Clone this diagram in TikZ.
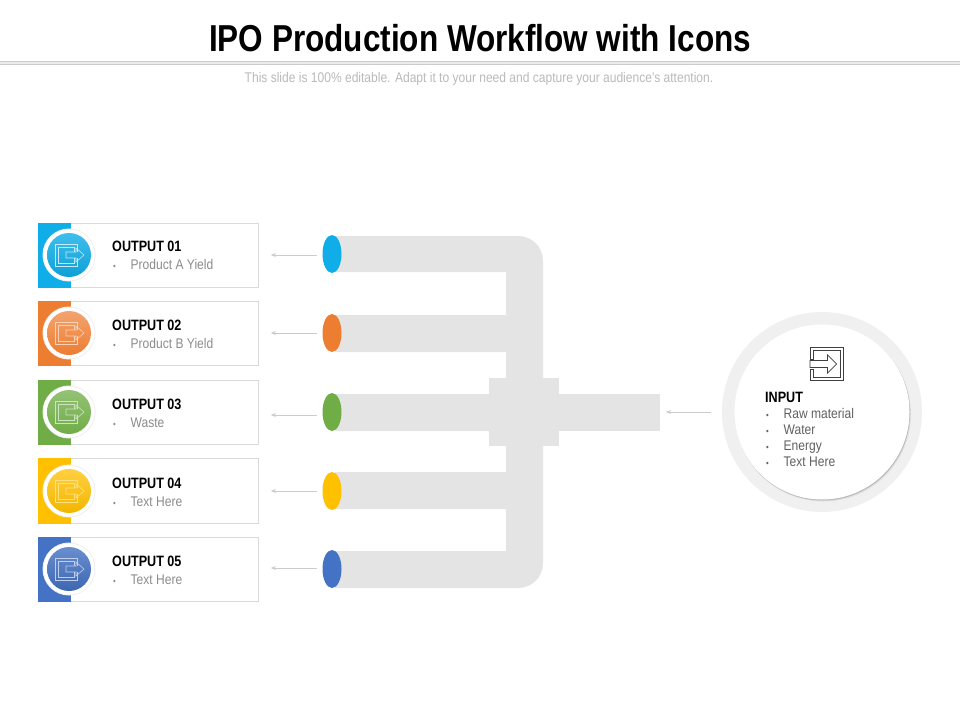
\documentclass[tikz,border=0pt]{standalone}
\usepackage{fontspec}
\setmainfont{Liberation Sans}
\newfontfamily\titlefont[FakeStretch=0.84]{Liberation Sans}
\newfontfamily\headfont[FakeStretch=0.84]{Liberation Sans}
\newfontfamily\bodyfont[FakeStretch=0.86]{Liberation Sans}
\usepackage{tikz}
\usetikzlibrary{arrows.meta}

\definecolor{pipegray}{HTML}{E4E4E4}
\definecolor{ringgray}{HTML}{F0F0F0}
\definecolor{cardline}{HTML}{D9D9D9}
\definecolor{arrowgray}{HTML}{CCCCCC}
\definecolor{bodygray}{HTML}{8C8C8C}
\definecolor{outblue}{HTML}{0FAEE9}
\definecolor{outorange}{HTML}{ED7D31}
\definecolor{outgreen}{HTML}{70AD47}
\definecolor{outyellow}{HTML}{FFC000}
\definecolor{outnavy}{HTML}{4472C4}

\newcommand{\headtext}[1]{{\headfont\fontsize{15}{18}\selectfont\bfseries\color{black}#1}}
\newcommand{\bulletline}[1]{\makebox[18.5pt][l]{\hspace{1pt}{\fontsize{9}{9}\selectfont\textbullet}}#1}

\tikzset{
  cardbox/.style={draw=cardline, fill=white, line width=0.8pt, minimum width=220pt, inner sep=0pt},
  cardtext/.style={align=left, anchor=west, inner sep=0pt, text=bodygray, font=\bodyfont\fontsize{14}{18}\selectfont},
  flowarrow/.style={draw=arrowgray, line width=0.6pt, -{Stealth[length=5pt,width=4pt]}},
  outicon/.pic={
    \draw[pic actions, fill=none] (8,-3) -- (8,-11) -- (-14,-11) -- (-14,11) -- (8,11) -- (8,3);
    \draw[pic actions, fill=none] (5,-3) -- (5,-8) -- (-11,-8) -- (-11,8) -- (5,8) -- (5,3);
    \draw[pic actions, fill=none] (-3,-3) -- (7,-3) -- (7,-7) -- (15,0) -- (7,7) -- (7,3) -- (-3,3) -- cycle;
  },
  inicon/.pic={
    \draw[pic actions, fill=none] (-16.5,-5) -- (-16.5,-16.5) -- (16.5,-16.5) -- (16.5,16.5) -- (-16.5,16.5) -- (-16.5,5)
      -- (-13.5,5) -- (-13.5,13.5) -- (13.5,13.5) -- (13.5,-13.5) -- (-13.5,-13.5) -- (-13.5,-5) -- cycle;
    \draw[pic actions, fill=none] (-16.5,-3.5) -- (1,-3.5) -- (1,-9) -- (10,0) -- (1,9) -- (1,3.5) -- (-16.5,3.5) -- cycle;
  }
}

\begin{document}
\begin{tikzpicture}[x=1pt,y=-1pt]
\useasboundingbox (0,0) rectangle (960,720);
\fill[white] (0,0) rectangle (960,720);

% heading
\node[inner sep=0pt, font=\titlefont\bfseries\fontsize{37.5}{38}\selectfont] (title) at (480,38) {IPO Production Workflow with Icons};
\fill[black!8] (0,61.5) rectangle (960,64.5);
\draw[black!20, line width=0.8pt] (0,61.5) -- (960,61.5);
\draw[black!20, line width=0.8pt] (0,64.5) -- (960,64.5);
\node[inner sep=0pt, text=black!27, font=\bodyfont\fontsize{14}{14}\selectfont] (subtitle) at (479,78.5)
{This slide is 100\% editable. Adapt it to your need and capture your audience's attention.};

% pipes
\fill[pipegray] (335,236) -- (518,236) .. controls (532,236) and (543,247) .. (543,261) -- (543,563)
  .. controls (543,577) and (532,588) .. (518,588) -- (335,588)
  -- (335,551) -- (506,551) -- (506,509) -- (335,509) -- (335,472) -- (506,472) -- (506,431) -- (335,431)
  -- (335,394) -- (506,394) -- (506,352) -- (335,352) -- (335,315) -- (506,315) -- (506,272) -- (335,272) -- cycle;
\fill[pipegray] (489,378) rectangle (559,446);
\fill[pipegray] (559,394) rectangle (660,431);
\coordinate (pipeend) at (660,412);

% pipe mouths
\fill[outblue] (332,254) ellipse [x radius=9.5, y radius=19];
\fill[outorange] (332,333) ellipse [x radius=9.5, y radius=19];
\fill[outgreen] (332,412) ellipse [x radius=9.5, y radius=19];
\fill[outyellow] (332,491) ellipse [x radius=9.5, y radius=19];
\fill[outnavy] (332,569) ellipse [x radius=9.5, y radius=19];
\coordinate (mouthone) at (322,255);
\coordinate (mouthtwo) at (322,333);
\coordinate (mouththree) at (322,415);
\coordinate (mouthfour) at (322,491);
\coordinate (mouthfive) at (322,568);

% output cards
\node[cardbox, minimum height=64.5pt] (cardone) at (148.5,255.5) {};
\node[cardbox, minimum height=64.5pt] (cardtwo) at (148.5,333.5) {};
\node[cardbox, minimum height=64.5pt] (cardthree) at (148.5,412.5) {};
\node[cardbox, minimum height=65pt] (cardfour) at (148.5,491) {};
\node[cardbox, minimum height=64.5pt] (cardfive) at (148.5,569.5) {};

\fill[outblue] (cardone.north west) rectangle ([xshift=33]cardone.south west);
\fill[outorange] (cardtwo.north west) rectangle ([xshift=33]cardtwo.south west);
\fill[outgreen] (cardthree.north west) rectangle ([xshift=33]cardthree.south west);
\fill[outyellow] (cardfour.north west) rectangle ([xshift=33]cardfour.south west);
\fill[outnavy] (cardfive.north west) rectangle ([xshift=33]cardfive.south west);

% badges
\fill[ringgray] (69,255) circle (26.5);
\fill[white] (69,255) circle (25.5);
\shade[top color=outblue!80!white, bottom color=outblue!92!black] (69,255) circle (22);
\pic[draw=white!75!outblue, line width=0.6pt] at (69,255) {outicon};

\fill[ringgray] (69,333) circle (26.5);
\fill[white] (69,333) circle (25.5);
\shade[top color=outorange!70!white, bottom color=outorange] (69,333) circle (22);
\pic[draw=white!65!outorange, line width=0.6pt] at (69,333) {outicon};

\fill[ringgray] (69,412) circle (26.5);
\fill[white] (69,412) circle (25.5);
\shade[top color=outgreen!75!white, bottom color=outgreen] (69,412) circle (22);
\pic[draw=white!65!outgreen, line width=0.6pt] at (69,412) {outicon};

\fill[ringgray] (69,491) circle (26.5);
\fill[white] (69,491) circle (25.5);
\shade[top color=outyellow!75!white, bottom color=outyellow!95!black] (69,491) circle (22);
\pic[draw=white!50!outyellow, line width=0.6pt] at (69,491) {outicon};

\fill[ringgray] (69,569) circle (26.5);
\fill[white] (69,569) circle (25.5);
\shade[top color=outnavy!80!white, bottom color=outnavy!90!black] (69,569) circle (22);
\pic[draw=white!65!outnavy, line width=0.6pt] at (69,569) {outicon};

% card texts
\node[cardtext] (textone) at (112,255.5) {\headtext{OUTPUT 01}\\\bulletline{Product A Yield}};
\node[cardtext] (texttwo) at (112,334.5) {\headtext{OUTPUT 02}\\\bulletline{Product B Yield}};
\node[cardtext] (textthree) at (112,413.5) {\headtext{OUTPUT 03}\\\bulletline{Waste}};
\node[cardtext] (textfour) at (112,492.5) {\headtext{OUTPUT 04}\\\bulletline{Text Here}};
\node[cardtext] (textfive) at (112,570.5) {\headtext{OUTPUT 05}\\\bulletline{Text Here}};

% input
\node[circle, fill=ringgray, minimum size=200pt, inner sep=0pt] (inputring) at (822,412) {};
\fill[black!12] (823.5,414) circle (87.5);
\fill[black!28] (822.6,413) circle (87.5);
\node[circle, fill=white, minimum size=175pt, inner sep=0pt] (inputdisc) at (822,412) {};
\pic[draw=black!75, line width=0.7pt] at (826.5,364) {inicon};
\node[align=left, anchor=north west, inner sep=0pt, text=black!62, font=\bodyfont\fontsize{14}{16}\selectfont] (inputtext) at (765,391.5)
{\headtext{INPUT}\\
\bulletline{Raw material}\\
\bulletline{Water}\\
\bulletline{Energy}\\
\bulletline{Text Here}};

% arrows
\draw[flowarrow, shorten <=5pt, shorten >=12pt] (mouthone) -- (mouthone -| cardone.east);
\draw[flowarrow, shorten <=5pt, shorten >=12pt] (mouthtwo) -- (mouthtwo -| cardtwo.east);
\draw[flowarrow, shorten <=5pt, shorten >=12pt] (mouththree) -- (mouththree -| cardthree.east);
\draw[flowarrow, shorten <=5pt, shorten >=12pt] (mouthfour) -- (mouthfour -| cardfour.east);
\draw[flowarrow, shorten <=5pt, shorten >=12pt] (mouthfive) -- (mouthfive -| cardfive.east);
\draw[flowarrow, shorten <=11pt, shorten >=6pt] (inputring.west) -- (pipeend);
\end{tikzpicture}
\end{document}
